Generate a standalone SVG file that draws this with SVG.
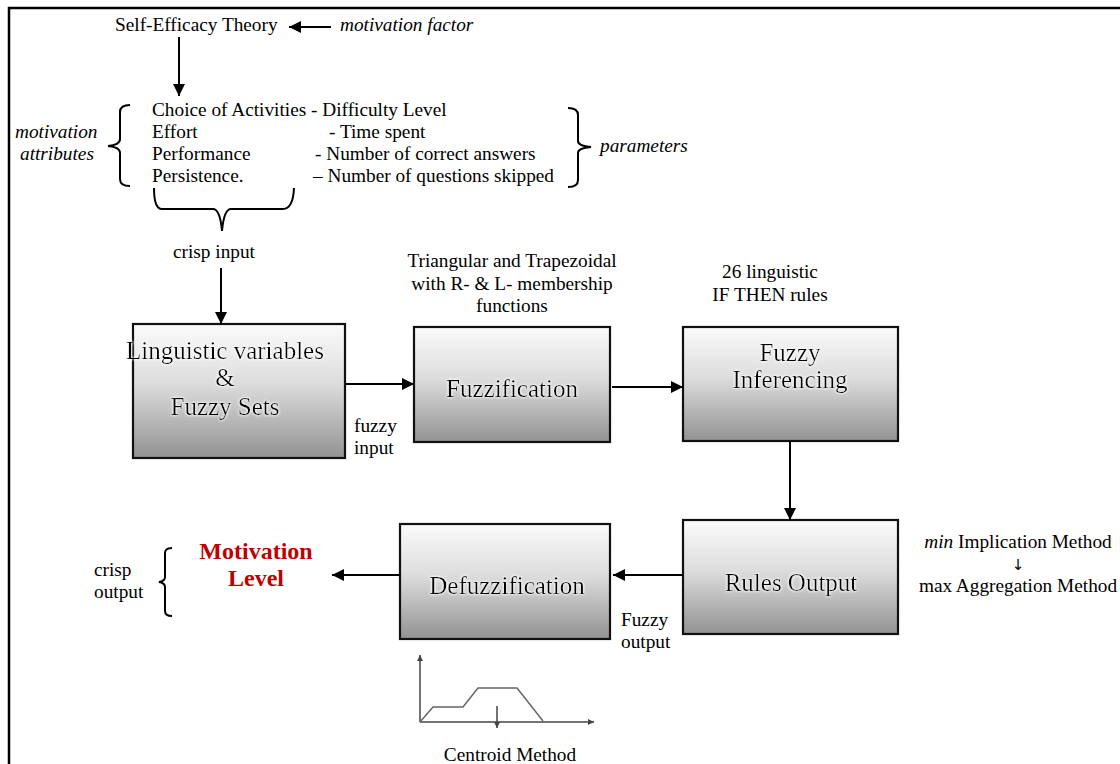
<svg xmlns="http://www.w3.org/2000/svg" width="1120" height="764" viewBox="0 0 1120 764">
<defs>
<linearGradient id="boxg" x1="0" y1="0" x2="0" y2="1">
<stop offset="0" stop-color="#fbfbfb"/>
<stop offset="0.45" stop-color="#dcdcdc"/>
<stop offset="1" stop-color="#929292"/>
</linearGradient>
<marker id="ah" viewBox="0 0 10 10" refX="10" refY="5" markerWidth="12" markerHeight="12" markerUnits="userSpaceOnUse" orient="auto">
<path d="M0,0 L10,5 L0,10 z" fill="#000"/>
</marker>
<marker id="ahs" viewBox="0 0 10 10" refX="10" refY="5" markerWidth="6" markerHeight="6" markerUnits="userSpaceOnUse" orient="auto">
<path d="M0,0 L10,5 L0,10 z" fill="#444"/>
</marker>
<filter id="glow" x="-10%" y="-30%" width="120%" height="160%">
<feGaussianBlur in="SourceAlpha" stdDeviation="1.5" result="b"/>
<feFlood flood-color="#fff"/>
<feComposite in2="b" operator="in" result="w"/>
<feMerge><feMergeNode in="w"/><feMergeNode in="w"/><feMergeNode in="SourceGraphic"/></feMerge>
</filter>
</defs>
<style>
text{font-family:"Liberation Serif","Times New Roman",serif;fill:#000}
.t{font-size:19.3px}
.i{font-style:italic}
.bx{fill:url(#boxg);stroke:#111;stroke-width:2.2}
.bt{font-size:25px;text-anchor:middle;filter:url(#glow)}
.c{stroke:#000;stroke-width:2;fill:none}
.br{stroke:#000;stroke-width:2;fill:none}
.m{text-anchor:middle}
.arr{font-family:"DejaVu Sans",sans-serif;font-size:15px;fill:#000}
</style>
<rect width="1120" height="764" fill="#fff"/>
<path d="M9,764 V8 H1120" fill="none" stroke="#000" stroke-width="2.5"/>

<g id="self-efficacy">
<text class="t" x="115" y="31">Self-Efficacy Theory</text>
</g>
<g id="motivation-factor">
<text class="t i" x="340" y="31">motivation factor</text>
</g>
<g id="attributes">
<text class="t i" x="15" y="138">motivation</text>
<text class="t i" x="20" y="160">attributes</text>
<path class="br" d="M130,105 Q120,105 120,112 V139 Q120,145 108,146 Q120,147 120,153 V179 Q120,186 130,186"/>
<text class="t" x="152" y="116">Choice of Activities - Difficulty Level</text>
<text class="t" x="152" y="138">Effort</text>
<text class="t" x="329" y="138">- Time spent</text>
<text class="t" x="152" y="160">Performance</text>
<text class="t" x="315" y="160">- Number of correct answers</text>
<text class="t" x="152" y="182">Persistence.</text>
<text class="t" x="313" y="182">– Number of questions skipped</text>
<path class="br" d="M568,108 Q578,108 578,115 V141 Q578,146 591,147 Q578,148 578,153 V180 Q578,187 568,187"/>
<text class="t i" x="600" y="152">parameters</text>
<path class="br" d="M154,188 Q154,209 162,209 H213 Q220,209 222,231 Q224,209 231,209 H283 Q293,209 294,188"/>
<text class="t" x="173" y="258">crisp input</text>
</g>

<g id="linguistic">
<rect class="bx" x="133" y="324" width="212" height="134"/>
<text class="bt" x="225" y="359">Linguistic variables</text>
<text class="bt" x="225" y="386">&amp;</text>
<text class="bt" x="225" y="415">Fuzzy Sets</text>
</g>
<g id="fuzzification">
<text class="t m" x="512" y="267">Triangular and Trapezoidal</text>
<text class="t m" x="512" y="290">with R- &amp; L- membership</text>
<text class="t m" x="512" y="312">functions</text>
<rect class="bx" x="414" y="327" width="196" height="115"/>
<text class="bt" x="512" y="397">Fuzzification</text>
</g>
<g id="inferencing">
<text class="t m" x="770" y="278">26 linguistic</text>
<text class="t m" x="770" y="301">IF THEN rules</text>
<rect class="bx" x="683" y="327" width="215" height="114"/>
<text class="bt" x="790" y="361">Fuzzy</text>
<text class="bt" x="790" y="388">Inferencing</text>
</g>
<g id="rules-output">
<rect class="bx" x="683" y="520" width="215" height="114"/>
<text class="bt" x="791" y="591">Rules Output</text>
<text class="t m" x="1018" y="548"><tspan font-style="italic">min</tspan> Implication Method</text>
<text class="arr m" x="1018" y="570">↓</text>
<text class="t m" x="1018" y="592">max Aggregation Method</text>
</g>
<g id="defuzzification">
<rect class="bx" x="400" y="524" width="210" height="115"/>
<text class="bt" x="507" y="594">Defuzzification</text>
</g>
<g id="motivation-level">
<text x="256" y="559" text-anchor="middle" style="font-size:24px;font-weight:bold;fill:#c00000">Motivation</text>
<text x="256" y="586" text-anchor="middle" style="font-size:24px;font-weight:bold;fill:#c00000">Level</text>
<path class="br" d="M172,548 Q165,548 165,553 V577 Q165,581 159,582 Q165,583 165,587 V611 Q165,616 172,616"/>
<text class="t" x="94" y="576">crisp</text>
<text class="t" x="94" y="598">output</text>
</g>
<g id="centroid">
<path d="M420,722 V655" stroke="#444" stroke-width="1.5" fill="none" marker-end="url(#ahs)"/>
<path d="M420,722 H594" stroke="#444" stroke-width="1.5" fill="none" marker-end="url(#ahs)"/>
<path d="M420,722 L433,707 H463 L478,688 H517 L543,721" stroke="#666" stroke-width="1.5" fill="none"/>
<path d="M497,706 V728" stroke="#444" stroke-width="1.5" fill="none" marker-end="url(#ahs)"/>
<text class="t m" x="510" y="761">Centroid Method</text>
</g>

<g id="connectors">
<path class="c" d="M331,27 H289" marker-end="url(#ah)"/>
<path class="c" d="M179,37 V96" marker-end="url(#ah)"/>
<path class="c" d="M221,268 V324" marker-end="url(#ah)"/>
<path class="c" d="M345,384 H414" marker-end="url(#ah)"/>
<text class="t" x="354" y="432">fuzzy</text>
<text class="t" x="354" y="454">input</text>
<path class="c" d="M612,387 H683" marker-end="url(#ah)"/>
<path class="c" d="M790,441 V520" marker-end="url(#ah)"/>
<path class="c" d="M683,575 H613" marker-end="url(#ah)"/>
<text class="t" x="621" y="626">Fuzzy</text>
<text class="t" x="621" y="648">output</text>
<path class="c" d="M400,575 H332" marker-end="url(#ah)"/>
</g>
</svg>
